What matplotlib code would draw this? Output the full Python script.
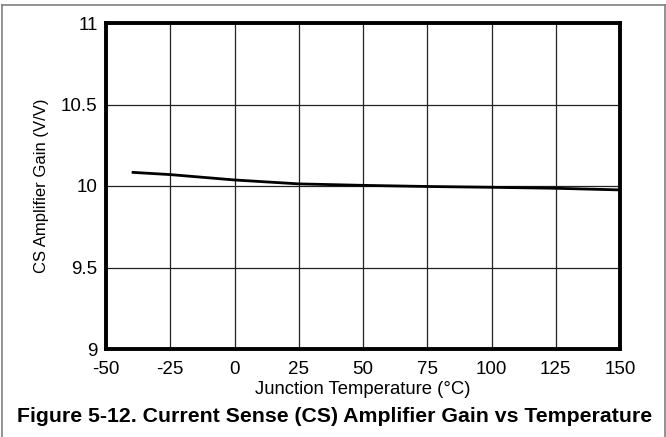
import matplotlib
matplotlib.use("Agg")
import matplotlib.pyplot as plt
from matplotlib.lines import Line2D

temperature = [-40, -25, 0, 25, 50, 75, 100, 125, 150]
gain = [10.084, 10.07, 10.037, 10.013, 10.004, 9.997, 9.992, 9.986, 9.976]
x_ticks = [-50, -25, 0, 25, 50, 75, 100, 125, 150]
y_ticks = [9, 9.5, 10, 10.5, 11]
y_tick_labels = ["9", "9.5", "10", "10.5", "11"]

plt.rcParams['font.family'] = ['Liberation Sans', 'DejaVu Sans']

fig = plt.figure(figsize=(6.66, 4.37), dpi=100)
ax = fig.add_axes([106/666, 88/437, 514/666, 326/437])

ax.plot(temperature, gain, color='black', lw=2.0, solid_capstyle='butt')
ax.set_xlim(-50, 150)
ax.set_ylim(9, 11)
ax.set_xticks(x_ticks)
ax.set_xticklabels([str(t) for t in x_ticks])
ax.set_yticks(y_ticks)
ax.set_yticklabels(y_tick_labels)
ax.grid(True, color='#222222', lw=0.9)
ax.set_axisbelow(True)
ax.tick_params(axis='x', length=0, labelsize=13.5, pad=9, colors='black')
ax.tick_params(axis='y', length=0, labelsize=13.5, pad=6, colors='black')
for s in ax.spines.values():
    s.set_linewidth(2.8)
    s.set_color('black')

ax.set_xlabel("Junction Temperature (°C)", fontsize=13.3, labelpad=2)
ax.set_ylabel("CS Amplifier Gain (V/V)", fontsize=12, labelpad=9)

# outer border (left, top, right)
W, H = 666, 437
for (x0, y0, x1, y1) in [(1.5, 5, 1.5, 437), (1.5, 5, 664.5, 5), (664.5, 5, 664.5, 437)]:
    fig.add_artist(Line2D([x0/W, x1/W], [1 - y0/H, 1 - y1/H], color='#7f7f7f', lw=1.2))

fig.text(335/666, 1 - 416/437, "Figure 5-12. Current Sense (CS) Amplifier Gain vs Temperature",
         ha='center', va='center', fontsize=15.3, fontweight='bold')

fig.savefig("out.png", dpi=100)
